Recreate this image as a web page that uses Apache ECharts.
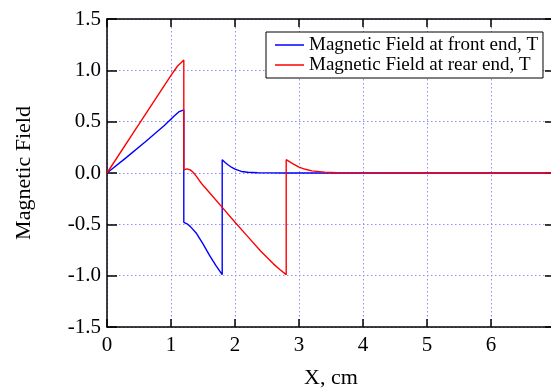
<!DOCTYPE html>
<html>
<head>
<meta charset="utf-8">
<script src="https://cdn.jsdelivr.net/npm/echarts@6/dist/echarts.min.js"></script>
<style>html,body{margin:0;padding:0;background:#fff}#c{width:551px;height:388px}</style>
</head>
<body>
<div id="c"></div>
<script>
var frontName = 'Magnetic Field at front end, T';
var rearName = 'Magnetic Field at rear end, T';
var frontX = [0, 0.3, 0.6, 0.9, 1.05, 1.12, 1.2, 1.2, 1.25, 1.3, 1.4, 1.5, 1.6, 1.7, 1.8, 1.8, 1.85, 1.9, 1.95, 2.0, 2.1, 2.2, 2.35, 2.5, 2.8, 3.5, 4.5, 5.5, 7];
var frontY = [0, 0.15, 0.305, 0.465, 0.555, 0.595, 0.615, -0.48, -0.495, -0.52, -0.59, -0.69, -0.80, -0.90, -0.99, 0.13, 0.10, 0.076, 0.054, 0.037, 0.015, 0.007, 0.003, 0.001, 0, 0, 0, 0, 0];
var rearX = [0, 0.4, 0.8, 1.0, 1.1, 1.2, 1.2, 1.25, 1.3, 1.35, 1.4, 1.45, 1.5, 1.6, 1.8, 2.0, 2.2, 2.4, 2.6, 2.7, 2.8, 2.8, 2.85, 2.9, 3.0, 3.1, 3.2, 3.4, 3.6, 4, 5, 6, 7];
var rearY = [0, 0.38, 0.76, 0.95, 1.04, 1.10, 0.03, 0.04, 0.03, 0.005, -0.035, -0.08, -0.12, -0.19, -0.335, -0.48, -0.62, -0.76, -0.885, -0.94, -0.99, 0.13, 0.11, 0.092, 0.058, 0.036, 0.021, 0.008, 0.003, 0.001, 0, 0, 0];
var xTicks = [0, 7, 1];
var yTicks = [-1.5, 1.5, 0.5];

function pairs(xs, ys) { return xs.map(function (x, i) { return [x, ys[i]]; }); }

var font = 'Liberation Serif';
var gridLine = { show: true, lineStyle: { color: '#8c8cff', type: [1.5, 2.5], width: 1 } };
var axLine = { show: true, onZero: false, lineStyle: { color: '#000', width: 1.5 } };

var chart = echarts.init(document.getElementById('c'), null, { renderer: 'canvas' });
chart.setOption({
  animation: false,
  backgroundColor: '#fff',
  grid: { left: 107, top: 19, width: 448, bottom: 61, containLabel: false, outerBoundsMode: 'none' },
  legend: {
    orient: 'vertical', left: 266, top: 32,
    backgroundColor: '#fff',
    borderColor: '#000', borderWidth: 1, borderRadius: 0,
    padding: [3, 5, 3, 9], itemGap: 0, itemWidth: 29, itemHeight: 1.5,
    icon: 'rect',
    textStyle: { fontFamily: font, fontSize: 19, color: '#000', lineHeight: 20 },
    data: [frontName, rearName]
  },
  xAxis: [
    { type: 'value', position: 'bottom', min: xTicks[0], max: xTicks[1], interval: xTicks[2],
      axisLine: axLine, axisTick: { show: true, inside: true, length: 8, lineStyle: { color: '#000', width: 1.5 } },
      axisLabel: { color: '#000', fontFamily: font, fontSize: 21, margin: 8 },
      splitLine: gridLine,
      name: 'X, cm', nameLocation: 'middle', nameGap: 40,
      nameTextStyle: { color: '#000', fontFamily: font, fontSize: 22 } },
    { type: 'value', position: 'top', min: xTicks[0], max: xTicks[1], interval: xTicks[2],
      axisLine: axLine, axisTick: { show: true, inside: true, length: 8, lineStyle: { color: '#000', width: 1.5 } },
      axisLabel: { show: false }, splitLine: { show: false } }
  ],
  yAxis: [
    { type: 'value', position: 'left', min: yTicks[0], max: yTicks[1], interval: yTicks[2],
      axisLine: axLine, axisTick: { show: true, inside: true, length: 10, lineStyle: { color: '#000', width: 1.5 } },
      axisLabel: { color: '#000', fontFamily: font, fontSize: 21, margin: 6, formatter: function (v) { return v.toFixed(1); } },
      splitLine: gridLine,
      name: 'Magnetic Field', nameLocation: 'middle', nameGap: 72,
      nameTextStyle: { color: '#000', fontFamily: font, fontSize: 22 } },
    { type: 'value', position: 'right', min: yTicks[0], max: yTicks[1], interval: yTicks[2],
      axisLine: axLine, axisTick: { show: true, inside: true, length: 10, lineStyle: { color: '#000', width: 1.5 } },
      axisLabel: { show: false }, splitLine: { show: false } }
  ],
  series: [
    { name: frontName, type: 'line', xAxisIndex: 0, yAxisIndex: 0, symbol: 'none', smooth: false,
      lineStyle: { color: '#0000ff', width: 1.4 }, itemStyle: { color: '#0000ff' },
      data: pairs(frontX, frontY) },
    { name: rearName, type: 'line', xAxisIndex: 0, yAxisIndex: 0, symbol: 'none', smooth: false,
      lineStyle: { color: '#ff0000', width: 1.4 }, itemStyle: { color: '#ff0000' },
      data: pairs(rearX, rearY) }
  ]
});
</script>
</body>
</html>
